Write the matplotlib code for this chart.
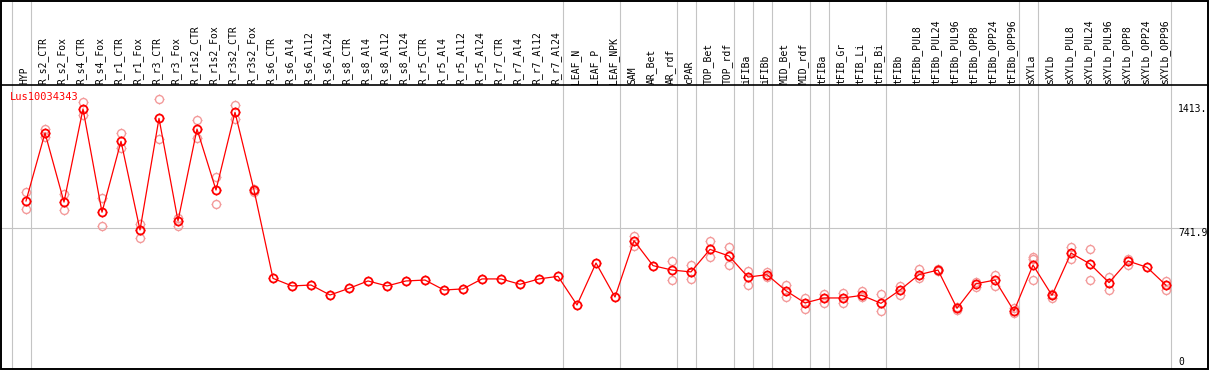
import numpy as np
import matplotlib
matplotlib.use("Agg")
import matplotlib.pyplot as plt
from matplotlib.path import Path
from matplotlib.markers import MarkerStyle
import matplotlib.transforms as mtransforms

# ---------------- data ----------------
gene_id = "Lus10034343"

categories = [
    "HYP", "R_s2_CTR", "R_s2_Fox", "R_s4_CTR", "R_s4_Fox", "R_r1_CTR", "R_r1_Fox",
    "R_r3_CTR", "R_r3_Fox", "R_r1s2_CTR", "R_r1s2_Fox", "R_r3s2_CTR", "R_r3s2_Fox",
    "R_s6_CTR", "R_s6_Al4", "R_s6_Al12", "R_s6_Al24", "R_s8_CTR", "R_s8_Al4",
    "R_s8_Al12", "R_s8_Al24", "R_r5_CTR", "R_r5_Al4", "R_r5_Al12", "R_r5_Al24",
    "R_r7_CTR", "R_r7_Al4", "R_r7_Al12", "R_r7_Al24", "LEAF_N", "LEAF_P", "LEAF_NPK",
    "SAM", "AR_Bet", "AR_rdf", "cPAR", "TOP_Bet", "TOP_rdf", "iFIBa", "iFIBb",
    "MID_Bet", "MID_rdf", "tFIBa", "tFIB_Gr", "tFIB_Li", "tFIB_Bi", "tFIBb",
    "tFIBb_PUL8", "tFIBb_PUL24", "tFIBb_PUL96", "tFIBb_OPP8", "tFIBb_OPP24",
    "tFIBb_OPP96", "sXYLa", "sXYLb", "sXYLb_PUL8", "sXYLb_PUL24", "sXYLb_PUL96",
    "sXYLb_OPP8", "sXYLb_OPP24", "sXYLb_OPP96",
]

mean_values = [
    890, 1258, 884, 1388, 829, 1213, 733, 1337, 782, 1279, 949, 1370, 949,
    471, 430, 435, 381, 417, 457, 430, 457, 462, 408, 414, 468, 468, 439, 468, 482,
    327, 554, 370,
    675, 540, 516, 506, 628, 592, 478, 491, 404, 338, 365, 365, 379, 336, 408,
    491, 516, 309, 442, 462, 294, 543, 379, 608, 549, 448, 565, 531, 434,
]

# replicate measurements per category (empty = none shown)
replicates = [
    [937, 845], [1281, 1236], [926, 839], [1424, 1355], [908, 753], [1258, 1175],
    [764, 691], [1443, 1227], [798, 756], [1327, 1229], [1018, 872], [1409, 1334],
    [955, 940],
    [], [], [], [], [], [], [], [], [], [], [], [], [], [], [], [],
    [], [], [],
    [700, 648], [], [565, 462], [542, 466], [673, 585], [641, 543], [513, 435],
    [507, 480], [435, 370], [363, 307], [388, 336], [394, 339], [401, 372],
    [385, 296], [431, 381], [520, 471], [520, 513], [318, 298], [453, 424],
    [491, 431], [309, 282], [588, 574, 462], [388, 363], [641, 575], [630, 462],
    [480, 406], [578, 542], [], [458, 406],
]

# index of last category in each group (vertical separators drawn after them)
group_ends = [-1, 0, 28, 31, 34, 35, 37, 38, 39, 41, 42, 45, 52, 53, 60]

axis_max_label = "1413."
axis_max_value = 1413
axis_mid_label = "741.9"
axis_mid_value = 741.9

# ---------------- figure ----------------
W, H = 1209, 370
fig = plt.figure(figsize=(W / 100, H / 100), dpi=100)
ax = fig.add_axes([0, 0, 1, 1])
ax.set_axis_off()

n = len(categories)
x = np.arange(n)
ax.set_xlim(-26 / 19, (W - 26) / 19)
ax.set_ylim(-(H - 365.4) / 0.18477, 365.4 / 0.18477)

gray = "#c4c4c4"
red = "#ff0000"
pink = "#f39a9a"

for g in group_ends:
    ax.axvline(g + 0.25, color=gray, lw=0.8, zorder=1)
ax.axhline(axis_mid_value, color=gray, lw=0.8, zorder=1)

label_frac = 1 - 85 / H
ax.plot([0, 1], [label_frac, label_frac], transform=ax.transAxes, color="black", lw=1.2, zorder=5)
ax.add_patch(plt.Rectangle((0.0008, 0.002), 0.9984, 0.996, transform=ax.transAxes,
                           fill=False, ec="black", lw=1.4, zorder=6))

# tick marker: four short outward ticks around a circle of radius 1
R0, R1 = 1.0, 1.35
tick_path = Path([(0, R0), (0, R1), (0, -R0), (0, -R1), (R0, 0), (R1, 0), (-R0, 0), (-R1, 0)],
                 [Path.MOVETO, Path.LINETO] * 4)
tick_mk = MarkerStyle(tick_path)
circ_px = 8.0  # circle diameter in px
tick_ms = circ_px * R1 * 0.72
circ_ms = circ_px * 0.72

rx, ry = [], []
for i, reps in enumerate(replicates):
    for r in reps:
        rx.append(i)
        ry.append(r)
ax.plot(rx, ry, linestyle="none", marker=tick_mk, ms=tick_ms, mfc="none", mec=pink, mew=0.8, zorder=3)
ax.plot(rx, ry, linestyle="none", marker="o", ms=circ_ms, mfc="none", mec=pink, mew=1.0, zorder=3)

ax.plot(x, mean_values, color=red, lw=0.9, zorder=4)
ax.plot(x, mean_values, linestyle="none", marker=tick_mk, ms=tick_ms, mfc="none", mec=red, mew=0.9, zorder=5)
ax.plot(x, mean_values, linestyle="none", marker="o", ms=circ_ms, mfc="none", mec=red, mew=1.3, zorder=5)

trans = mtransforms.blended_transform_factory(ax.transData, ax.transAxes)
for i, c in enumerate(categories):
    ax.text(i - 0.1, 1 - 84 / H, c, rotation=90, ha="center", va="bottom",
            family="DejaVu Sans Mono", fontsize=7, color="black", transform=trans)

ax.text(10 / W, 1 - 97.5 / H, gene_id, color=red, family="DejaVu Sans Mono", fontsize=7.5,
        ha="left", va="center", transform=ax.transAxes)

tr = mtransforms.blended_transform_factory(ax.transAxes, ax.transData)
ax.text(1178 / W, axis_max_value, axis_max_label, ha="left", va="top",
        family="DejaVu Sans Mono", fontsize=7, transform=tr)
ax.text(1178 / W, axis_mid_value, axis_mid_label, ha="left", va="top",
        family="DejaVu Sans Mono", fontsize=7, transform=tr)
ax.text(1178 / W, 1 - 361.7 / H, "0", ha="left", va="center",
        family="DejaVu Sans Mono", fontsize=7, transform=ax.transAxes)

fig.savefig("out.png", dpi=100)
